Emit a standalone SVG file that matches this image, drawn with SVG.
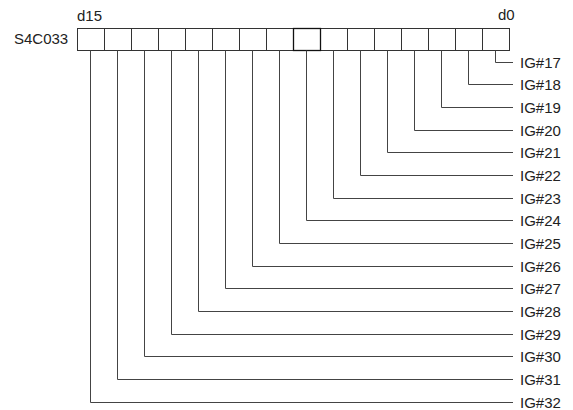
<svg xmlns="http://www.w3.org/2000/svg" width="573" height="410" viewBox="0 0 573 410">
<style>
.t{font-family:"Liberation Sans",Arial,sans-serif;font-size:15px;fill:#222}
.c{fill:#fff;stroke:#333;stroke-width:1}
.c8{fill:#fff;stroke:#111;stroke-width:1.3}
.w{fill:none;stroke:#444;stroke-width:1}
</style>
<rect width="573" height="410" fill="#fff"/>
<g id="register">
<text class="t" x="14" y="44">S4C033</text>
<text class="t" x="77" y="21">d15</text>
<text class="t" x="498" y="20">d0</text>
<rect class="c" x="77.5" y="28.5" width="27" height="22"/>
<rect class="c" x="104.5" y="28.5" width="27" height="22"/>
<rect class="c" x="131.5" y="28.5" width="27" height="22"/>
<rect class="c" x="158.5" y="28.5" width="27" height="22"/>
<rect class="c" x="185.5" y="28.5" width="27" height="22"/>
<rect class="c" x="212.5" y="28.5" width="27" height="22"/>
<rect class="c" x="239.5" y="28.5" width="27" height="22"/>
<rect class="c" x="266.5" y="28.5" width="27" height="22"/>
<rect class="c" x="320.5" y="28.5" width="27" height="22"/>
<rect class="c" x="347.5" y="28.5" width="27" height="22"/>
<rect class="c" x="374.5" y="28.5" width="27" height="22"/>
<rect class="c" x="401.5" y="28.5" width="27" height="22"/>
<rect class="c" x="428.5" y="28.5" width="27" height="22"/>
<rect class="c" x="455.5" y="28.5" width="27" height="22"/>
<rect class="c" x="482.5" y="28.5" width="27" height="22"/>
<rect class="c8" x="293.5" y="28.5" width="27" height="22"/>
</g>
<g id="connectors">
<path class="w" d="M495.5 50.5V62.5H513"/>
<path class="w" d="M468.5 50.5V84.5H513"/>
<path class="w" d="M441.5 50.5V107.5H513"/>
<path class="w" d="M414.5 50.5V130.5H513"/>
<path class="w" d="M387.5 50.5V152.5H513"/>
<path class="w" d="M360.5 50.5V175.5H513"/>
<path class="w" d="M333.5 50.5V198.5H513"/>
<path class="w" d="M306.5 50.5V220.5H513"/>
<path class="w" d="M279.5 50.5V243.5H513"/>
<path class="w" d="M252.5 50.5V266.5H513"/>
<path class="w" d="M225.5 50.5V288.5H513"/>
<path class="w" d="M198.5 50.5V311.5H513"/>
<path class="w" d="M171.5 50.5V334.5H513"/>
<path class="w" d="M144.5 50.5V356.5H513"/>
<path class="w" d="M117.5 50.5V379.5H513"/>
<path class="w" d="M90.5 50.5V402.5H513"/>
</g>
<g id="ig17"><text class="t" x="520" y="67.5">IG#17</text></g>
<g id="ig18"><text class="t" x="520" y="89.5">IG#18</text></g>
<g id="ig19"><text class="t" x="520" y="112.5">IG#19</text></g>
<g id="ig20"><text class="t" x="520" y="135.5">IG#20</text></g>
<g id="ig21"><text class="t" x="520" y="157.5">IG#21</text></g>
<g id="ig22"><text class="t" x="520" y="180.5">IG#22</text></g>
<g id="ig23"><text class="t" x="520" y="203.5">IG#23</text></g>
<g id="ig24"><text class="t" x="520" y="225.5">IG#24</text></g>
<g id="ig25"><text class="t" x="520" y="248.5">IG#25</text></g>
<g id="ig26"><text class="t" x="520" y="271.5">IG#26</text></g>
<g id="ig27"><text class="t" x="520" y="293.5">IG#27</text></g>
<g id="ig28"><text class="t" x="520" y="316.5">IG#28</text></g>
<g id="ig29"><text class="t" x="520" y="339.5">IG#29</text></g>
<g id="ig30"><text class="t" x="520" y="361.5">IG#30</text></g>
<g id="ig31"><text class="t" x="520" y="384.5">IG#31</text></g>
<g id="ig32"><text class="t" x="520" y="407.5">IG#32</text></g>
</svg>
